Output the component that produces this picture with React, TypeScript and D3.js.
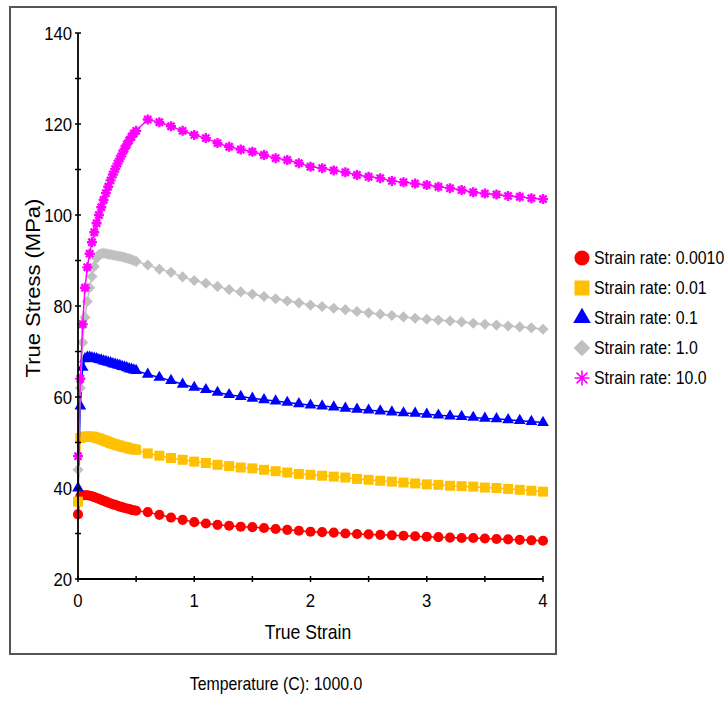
import React from 'react';
import * as d3 from 'd3';

// strain grid: fine steps up to 0.5, then 0.1 steps
const strain = [
  0, 0.02, 0.04, 0.06, 0.08, 0.1, 0.12, 0.14, 0.16, 0.18, 0.2, 0.22, 0.24,
  0.26, 0.28, 0.3, 0.32, 0.34, 0.36, 0.38, 0.4, 0.42, 0.44, 0.46, 0.48, 0.5,
  0.6, 0.7, 0.8, 0.9, 1.0, 1.1, 1.2, 1.3, 1.4, 1.5, 1.6, 1.7, 1.8, 1.9, 2.0,
  2.1, 2.2, 2.3, 2.4, 2.5, 2.6, 2.7, 2.8, 2.9, 3.0, 3.1, 3.2, 3.3, 3.4, 3.5,
  3.6, 3.7, 3.8, 3.9, 4.0,
];

const rate0001 = [
  34.2, 38.2, 38.4, 38.4, 38.4, 38.3, 38.2, 38.0, 37.8, 37.6, 37.4, 37.2, 37.0,
  36.8, 36.6, 36.4, 36.3, 36.1, 35.9, 35.8, 35.6, 35.5, 35.4, 35.2, 35.1, 35.0,
  34.7, 34.1, 33.5, 33.0, 32.5, 32.2, 31.9, 31.7, 31.5, 31.4, 31.2, 31.0, 30.8,
  30.6, 30.4, 30.3, 30.2, 30.0, 29.9, 29.8, 29.7, 29.6, 29.5, 29.4, 29.3, 29.2,
  29.1, 29.0, 29.0, 28.9, 28.8, 28.7, 28.6, 28.5, 28.4,
];
const rate001 = [
  37.0, 51.0, 51.2, 51.3, 51.3, 51.3, 51.3, 51.2, 51.0, 50.9, 50.7, 50.5, 50.3,
  50.1, 49.9, 49.7, 49.6, 49.4, 49.3, 49.1, 49.0, 48.9, 48.7, 48.6, 48.5, 48.4,
  47.6, 47.1, 46.6, 46.2, 45.8, 45.5, 45.1, 44.8, 44.5, 44.3, 44.0, 43.7, 43.4,
  43.1, 42.9, 42.7, 42.5, 42.3, 42.0, 41.8, 41.6, 41.4, 41.2, 41.0, 40.8, 40.7,
  40.5, 40.4, 40.3, 40.1, 40.0, 39.8, 39.6, 39.4, 39.2,
];
const rate01 = [
  40.0, 58.0, 66.5, 68.4, 68.7, 68.7, 68.6, 68.5, 68.4, 68.2, 68.1, 67.9, 67.8,
  67.6, 67.5, 67.3, 67.2, 67.0, 66.9, 66.7, 66.6, 66.4, 66.2, 66.1, 65.9, 65.8,
  65.0, 64.3, 63.6, 62.8, 62.1, 61.6, 61.0, 60.5, 60.1, 59.7, 59.4, 59.1, 58.8,
  58.5, 58.2, 58.0, 57.8, 57.5, 57.3, 57.1, 56.9, 56.7, 56.5, 56.4, 56.2, 56.0,
  55.8, 55.7, 55.5, 55.3, 55.2, 55.0, 54.8, 54.6, 54.4,
];
const rate1 = [
  44.0, 62.0, 72.0, 77.5, 81.0, 84.0, 86.5, 88.7, 90.5, 91.3, 91.5, 91.6, 91.5,
  91.4, 91.3, 91.2, 91.1, 91.0, 90.9, 90.8, 90.7, 90.5, 90.4, 90.2, 90.0, 89.8,
  89.0, 88.1, 87.4, 86.4, 85.6, 85.0, 84.3, 83.6, 83.1, 82.6, 82.1, 81.6, 81.1,
  80.7, 80.2, 79.9, 79.5, 79.2, 78.8, 78.5, 78.2, 77.9, 77.6, 77.3, 77.1, 76.9,
  76.7, 76.5, 76.2, 76.0, 75.8, 75.6, 75.4, 75.2, 74.9,
];
const rate10 = [
  47.0, 64.0, 76.0, 84.0, 88.5, 91.5, 94.0, 96.2, 98.2, 100.0, 101.7, 103.3,
  104.8, 106.2, 107.6, 108.9, 110.1, 111.3, 112.4, 113.5, 114.5, 115.5, 116.4,
  117.2, 117.9, 118.5,
  121.0, 120.4, 119.5, 118.5, 117.6, 116.9, 115.8, 115.0, 114.4, 113.9, 113.2,
  112.5, 112.1, 111.4, 110.6, 110.3, 109.8, 109.4, 108.8, 108.4, 108.1, 107.5,
  107.2, 106.9, 106.6, 106.2, 105.9, 105.5, 105.0, 104.7, 104.5, 104.2, 104.0,
  103.7, 103.5,
];

const rateLabels = ['0.0010', '0.01', '0.1', '1.0', '10.0'];

const series = [
  {label: rateLabels[0], values: rate0001, color: '#ff0000', shape: 'circle'},
  {label: rateLabels[1], values: rate001, color: '#ffc000', shape: 'square'},
  {label: rateLabels[2], values: rate01, color: '#0000ff', shape: 'triangle'},
  {label: rateLabels[3], values: rate1, color: '#c0c0c0', shape: 'diamond'},
  {label: rateLabels[4], values: rate10, color: '#ff00ff', shape: 'star'},
];

const font = "'Liberation Sans', Arial, sans-serif";

function Txt({x, y, size, anchor = 'start', rotate = 0, children}: any) {
  // the reference font is a bit narrow, squeeze it
  return (
    <text
      transform={`translate(${x},${y}) rotate(${rotate}) ${rotate ? 'scale(1,0.88)' : 'scale(0.88,1)'}`}
      textAnchor={anchor}
      fontSize={size}
      fontFamily={font}
      fill="#000"
    >
      {children}
    </text>
  );
}

function Marker({shape, x, y, color, big = false}: any) {
  const k = big ? 1.5 : 1;
  if (shape === 'star') {
    const r = 5 * k;
    const q = r * 0.72;
    const d = `M${-r},0L${r},0M0,${-r}L0,${r}M${-q},${-q}L${q},${q}M${-q},${q}L${q},${-q}`;
    return <path d={d} transform={`translate(${x},${y})`} stroke={color} strokeWidth={big ? 1.6 : 2.4} fill="none" />;
  }
  let sym: any = d3.symbolCircle;
  let size = 80;
  let rot = 0;
  if (shape === 'square') { sym = d3.symbolSquare; size = 100; }
  if (shape === 'triangle') { sym = d3.symbolTriangle; size = 60; }
  if (shape === 'diamond') { sym = d3.symbolSquare; size = 62; rot = 45; }
  const d = d3.symbol().type(sym).size(size * k * k)();
  return <path d={d || ''} transform={`translate(${x},${y}) rotate(${rot})`} fill={color} />;
}

export default function App() {
  const width = 725;
  const height = 702;

  const x = d3.scaleLinear().domain([0, 4]).range([78, 543]);
  const y = d3.scaleLinear().domain([20, 140]).range([579, 33]);

  const line = d3.line<number>()
    .x((d, i) => x(strain[i]))
    .y((d) => y(d));

  const yTicks = y.ticks(12);
  const xTicks = x.ticks(8);

  return (
    <svg width={width} height={height} style={{position: 'absolute', left: 0, top: 0, background: '#fff'}}>
      <rect x={10} y={7} width={546} height={647} fill="#fff" stroke="#555" strokeWidth={2} />

      {/* series */}
      {series.map((s) => (
        <g key={s.label}>
          <path d={line(s.values) || ''} fill="none" stroke={s.color} strokeWidth={1.5} />
          {s.values.map((v, i) => (
            <Marker key={i} shape={s.shape} x={x(strain[i])} y={y(v)} color={s.color} />
          ))}
        </g>
      ))}

      {/* axes */}
      <g stroke="#000">
        <line x1={x(0)} x2={x(0)} y1={y(140)} y2={y(20)} strokeWidth={1.8} />
        {yTicks.map((t) => (
          <line key={t} x1={x(0) - 3} x2={x(0) + 3} y1={y(t)} y2={y(t)} strokeWidth={1.5} />
        ))}
        <line x1={x(0)} x2={x(4)} y1={y(20)} y2={y(20)} strokeWidth={1.8} />
        {xTicks.map((t) => (
          <line key={t} x1={x(t)} x2={x(t)} y1={y(20) - 3} y2={y(20) + 3} strokeWidth={1.5} />
        ))}
      </g>
      {yTicks.filter((t) => t % 20 === 0).map((t) => (
        <Txt key={t} x={72} y={y(t) + 6.5} size={19} anchor="end">{t}</Txt>
      ))}
      {xTicks.filter((t) => Number.isInteger(t)).map((t) => (
        <Txt key={t} x={x(t)} y={607} size={19} anchor="middle">{t}</Txt>
      ))}

      <Txt x={308} y={639} size={20} anchor="middle">True Strain</Txt>
      <Txt x={40} y={288} size={22} anchor="middle" rotate={-90}>True Stress (MPa)</Txt>
      <Txt x={276} y={690} size={18} anchor="middle">Temperature (C): 1000.0</Txt>

      {/* legend */}
      {series.map((s, i) => (
        <g key={s.label}>
          <Marker shape={s.shape} x={582} y={258 + i * 30} color={s.color} big />
          <Txt x={594} y={264 + i * 30} size={18}>{'Strain rate: ' + s.label}</Txt>
        </g>
      ))}
    </svg>
  );
}
